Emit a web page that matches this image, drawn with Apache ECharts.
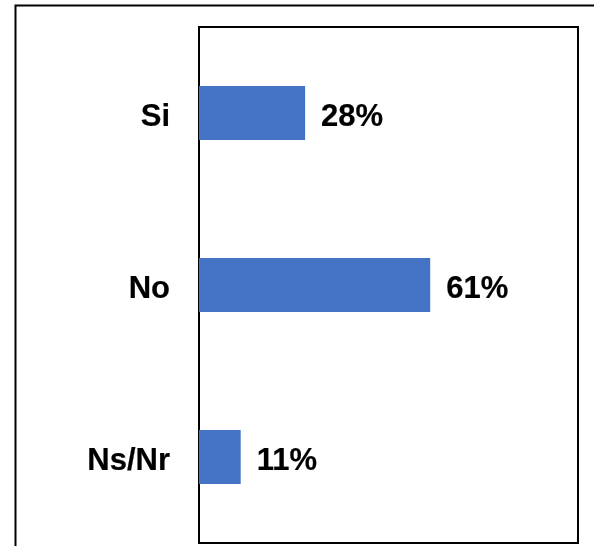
<!DOCTYPE html>
<html><head><meta charset="utf-8">
<script src="https://cdn.jsdelivr.net/npm/echarts@6/dist/echarts.min.js"></script>
<style>html,body{margin:0;padding:0;background:#fff}#c{width:594px;height:546px}</style>
</head><body><div id="c"></div>
<script>
const categories = ['Si', 'No', 'Ns/Nr'];
const values = [28, 61, 11];
const chart = echarts.init(document.getElementById('c'));
const font = {color: '#000', fontSize: 31, fontWeight: 'bold', fontFamily: 'Liberation Sans, Arial, sans-serif', textBorderColor: '#000', textBorderWidth: 0.2};
chart.setOption({
  animation: false,
  backgroundColor: '#fff',
  graphic: [{
    type: 'rect', shape: {x: 15.5, y: 5.5, width: 700, height: 700},
    style: {fill: 'none', stroke: '#000', lineWidth: 2}, silent: true
  }],
  grid: {left: 199, right: 16, top: 27, bottom: 3, show: true, borderColor: '#000', borderWidth: 2, backgroundColor: 'transparent'},
  xAxis: {type: 'value', min: 0, max: 100, show: false},
  yAxis: {
    type: 'category', data: categories, inverse: true,
    axisLine: {show: true, lineStyle: {color: '#000', width: 2}},
    axisTick: {show: false},
    axisLabel: Object.assign({margin: 29, formatter: v => '{a|' + v + '}', rich: {a: Object.assign({padding: [8, 0, 0, 0]}, font)}}, font)
  },
  series: [{
    type: 'bar', data: values, barWidth: 54,
    itemStyle: {color: '#4472C4'},
    label: Object.assign({show: true, position: 'right', distance: 16, offset: [0, 4], formatter: p => p.value + '%'}, font)
  }]
});
</script></body></html>
